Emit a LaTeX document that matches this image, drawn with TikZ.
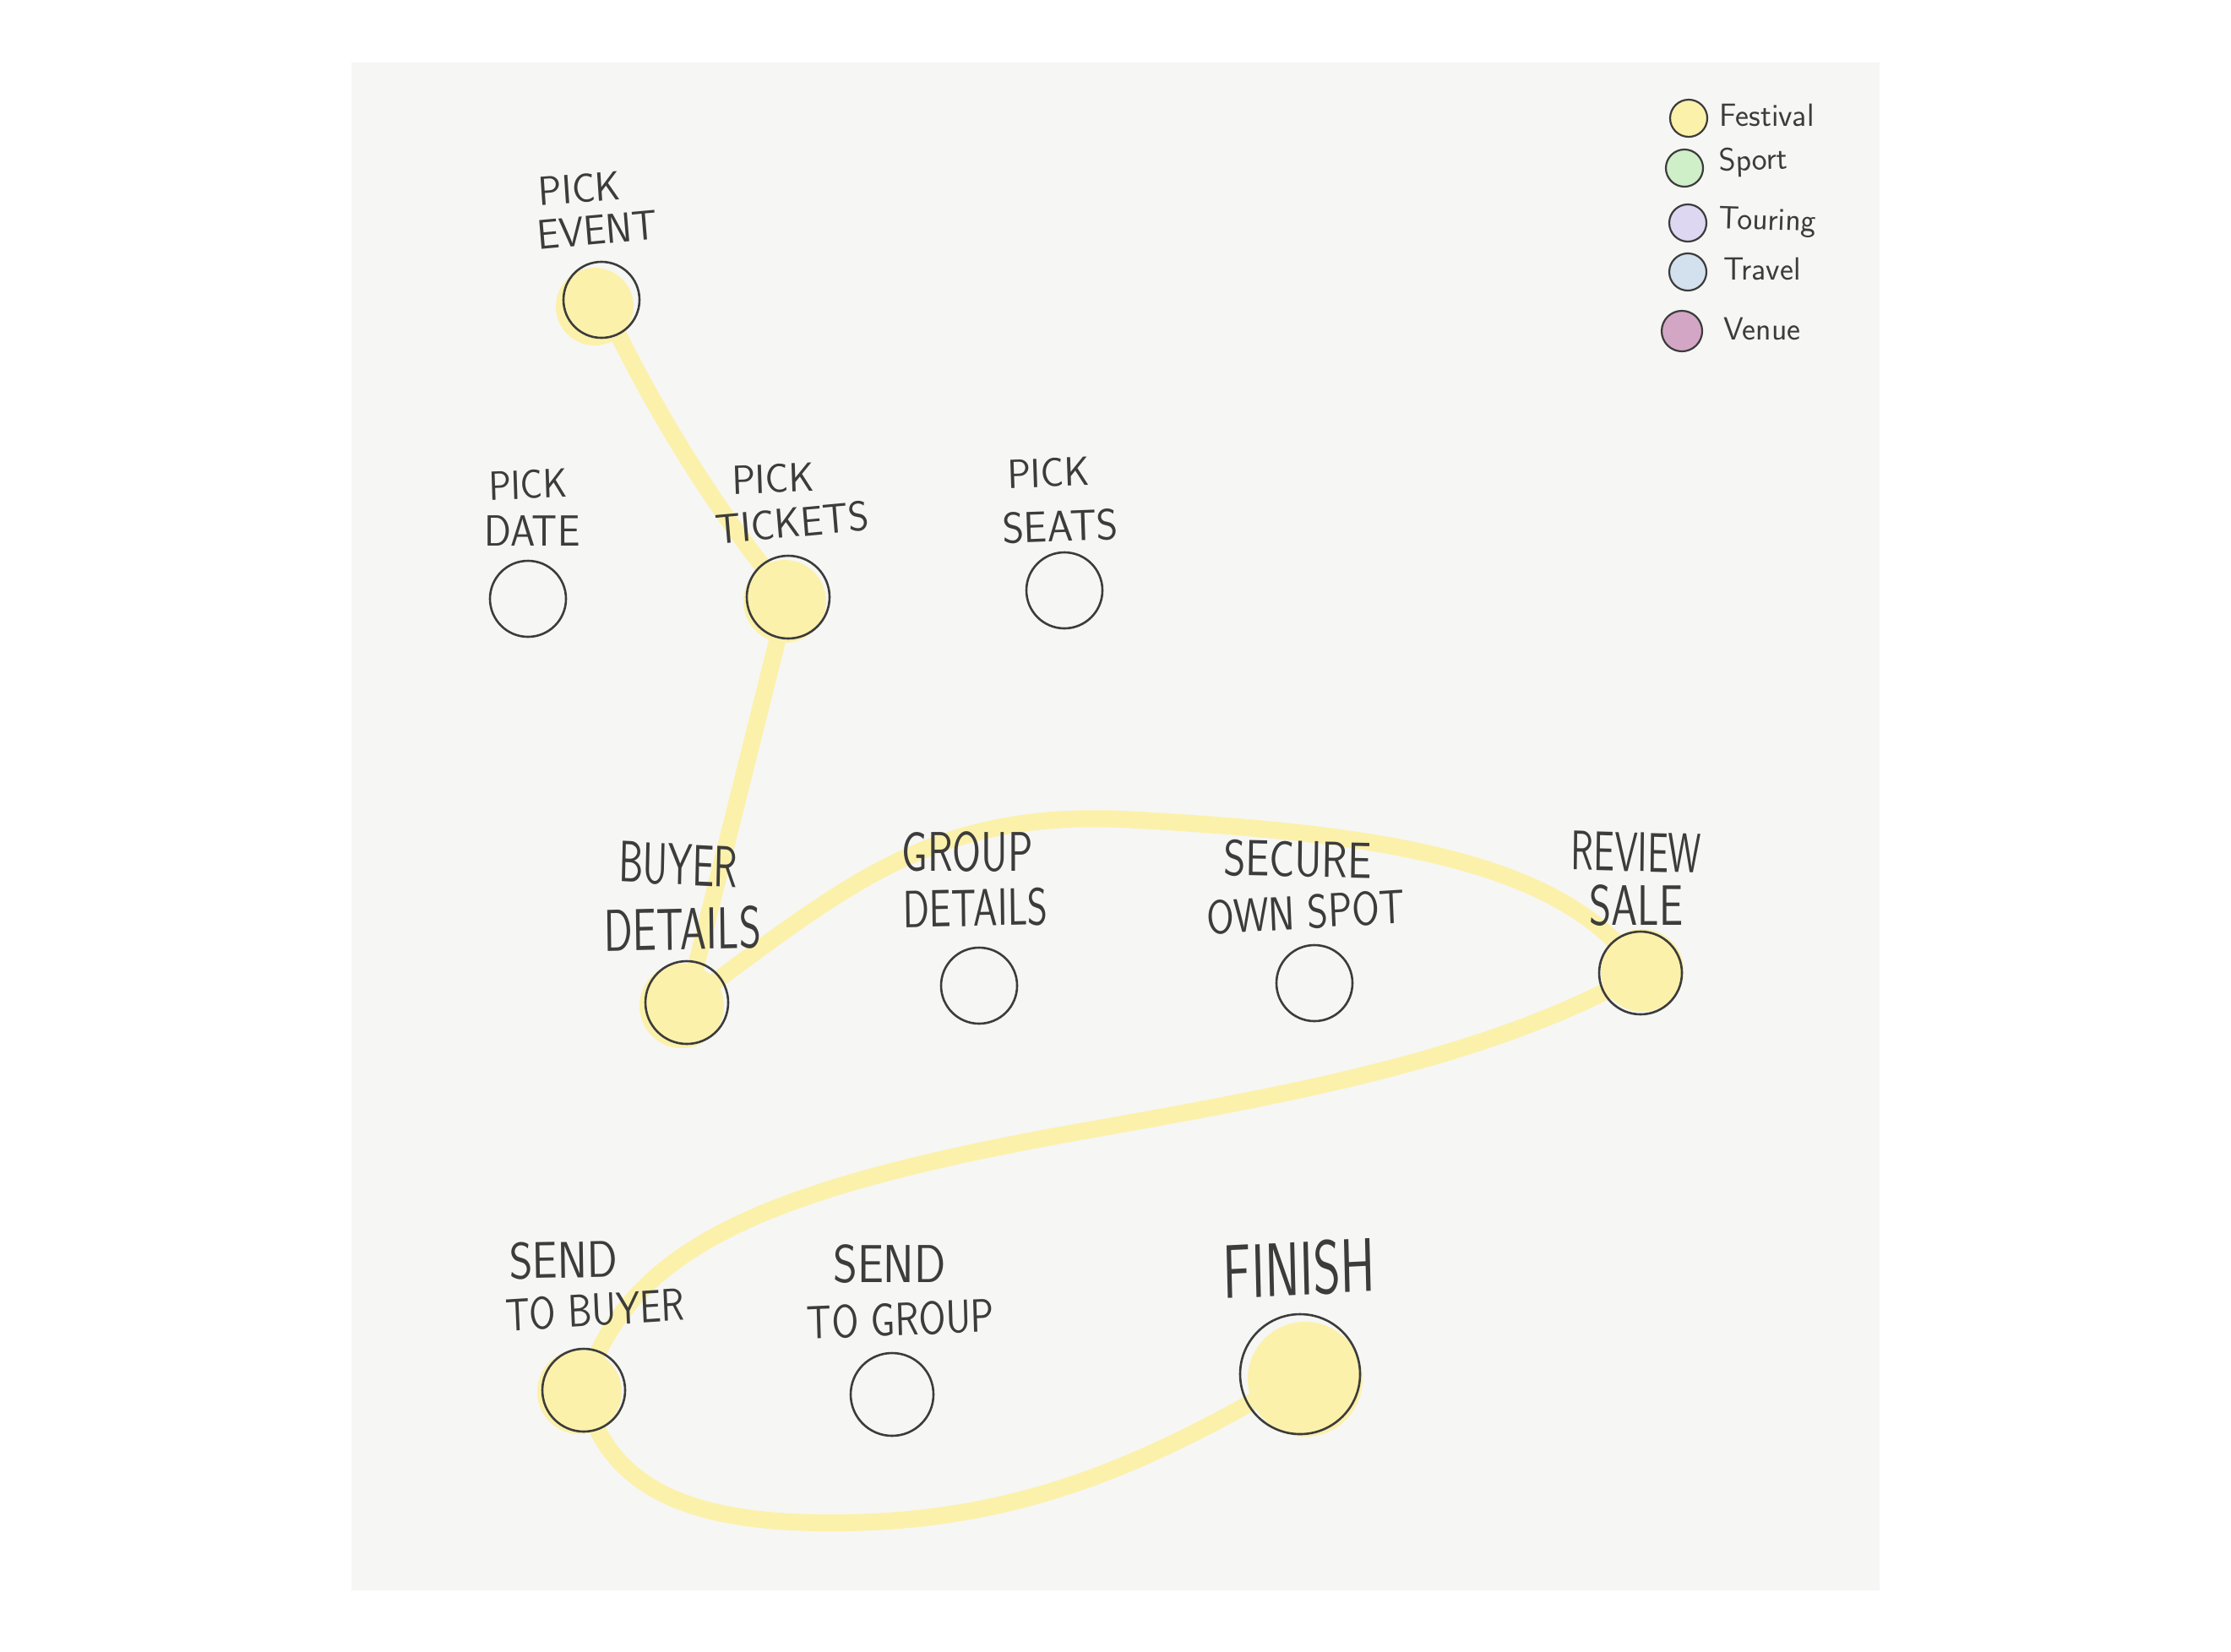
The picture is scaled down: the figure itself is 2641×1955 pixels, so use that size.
\documentclass[tikz,border=0pt]{standalone}
\usepackage{fontspec}
\usetikzlibrary{backgrounds}
\definecolor{ink}{HTML}{3C3C3C}
\definecolor{panel}{HTML}{F6F6F4}
\definecolor{fest}{HTML}{FCF1AA}
\definecolor{sportc}{HTML}{CFEFC9}
\definecolor{tourc}{HTML}{DDD7F2}
\definecolor{travc}{HTML}{D3E1EE}
\definecolor{venuec}{HTML}{D4A6C6}
\newcommand\labsize[1]{\fontsize{#1}{#1}\selectfont}
\tikzset{
  stopc/.style={circle, draw=ink, line width=2.6pt, minimum size=90pt, inner sep=0pt},
  bigstop/.style={stopc, minimum size=98pt},
  route/.style={draw=fest, line width=20pt, line cap=round, line join=round},
  lab/.style={inner sep=0pt, text=ink},
  key/.style={circle, draw=ink, line width=2.2pt, minimum size=44pt, inner sep=0pt},
  keylab/.style={lab, anchor=west, font=\sffamily\labsize{38}}
}
\begin{document}
\begin{tikzpicture}[x=1pt,y=-1pt]
\useasboundingbox (0,0) rectangle (2641,1955);
% circles
\node[stopc] (ev) at (712,355) {};
\node[stopc] (date) at (625,709) {};
\node[bigstop] (tix) at (933,707) {};
\node[stopc] (seats) at (1260,699) {};
\node[bigstop] (buyer) at (813,1187) {};
\node[stopc] (group) at (1159,1167) {};
\node[stopc] (secure) at (1556,1164) {};
\node[bigstop] (review) at (1942,1152) {};
\node[bigstop] (sbuyer) at (691,1646) {};
\node[bigstop] (sgroup) at (1056,1651) {};
\node[stopc, minimum size=142pt] (finish) at (1539,1627) {};
% labels
\node[lab, font=\sffamily\labsize{46}, yscale=1.05, rotate=4] (evA) at (686,223) {PICK};
\node[lab, font=\sffamily\labsize{47}, yscale=1.05, rotate=5] (evB) at (707,272) {EVENT};
\node[lab, font=\sffamily\labsize{44}, yscale=1.1, rotate=2] (dateA) at (625,574) {PICK};
\node[lab, font=\sffamily\labsize{47}, yscale=1.1] (dateB) at (630,629) {DATE};
\node[lab, font=\sffamily\labsize{46}, yscale=1.05, rotate=2] (tixA) at (915,567) {PICK};
\node[lab, font=\sffamily\labsize{47}, yscale=1.05, rotate=5] (tixB) at (938,619) {TICKETS};
\node[lab, font=\sffamily\labsize{46}, yscale=1.05, rotate=2] (seatsA) at (1241,560) {PICK};
\node[lab, font=\sffamily\labsize{49}, yscale=1.05, rotate=2] (seatsB) at (1255,623) {SEATS};
\node[lab, font=\sffamily\labsize{46}, yscale=1.5, rotate=-2] (buyerA) at (803,1024) {BUYER};
\node[lab, font=\sffamily\labsize{50}, yscale=1.4, rotate=1] (buyerB) at (808,1100) {DETAILS};
\node[lab, font=\sffamily\labsize{49}, yscale=1.35] (groupA) at (1145,1009) {GROUP};
\node[lab, font=\sffamily\labsize{46}, yscale=1.35, rotate=1] (groupB) at (1155,1075) {DETAILS};
\node[lab, font=\sffamily\labsize{50}, yscale=1.2, rotate=-1] (secureA) at (1536,1017) {SECURE};
\node[lab, font=\sffamily\labsize{47}, yscale=1.2, rotate=3] (secureB) at (1546,1080) {OWN SPOT};
\node[lab, font=\sffamily\labsize{44}, yscale=1.5, rotate=-1] (reviewA) at (1937,1009) {REVIEW};
\node[lab, font=\sffamily\labsize{50}, yscale=1.35] (reviewB) at (1937,1072) {SALE};
\node[lab, font=\sffamily\labsize{53}, yscale=1.15, rotate=1] (sbuyerA) at (667,1492) {SEND};
\node[lab, font=\sffamily\labsize{45}, yscale=1.2, rotate=3] (sbuyerB) at (704,1551) {TO BUYER};
\node[lab, font=\sffamily\labsize{55}, yscale=1.15] (sgroupA) at (1053,1497) {SEND};
\node[lab, font=\sffamily\labsize{46}, yscale=1.2, rotate=2] (sgroupB) at (1066,1562) {TO GROUP};
\node[lab, font=\sffamily\labsize{62}, yscale=1.45, rotate=2] (finishA) at (1538,1502) {FINISH};
% legend
\node[key, fill=fest] (kf) at (1999,140) {};
\node[key, fill=sportc] (ks) at (1994,199) {};
\node[key, fill=tourc] (kt) at (1998,264) {};
\node[key, fill=travc] (kv) at (1998,322) {};
\node[key, fill=venuec, minimum size=48pt] (kn) at (1991,392) {};
\node[keylab] (kfL) at (2035,136) {Festival};
\node[keylab, rotate=2] (ksL) at (2035,193) {Sport};
\node[keylab, rotate=-2] (ktL) at (2035,261) {Touring};
\node[keylab] (kvL) at (2040,318) {Travel};
\node[keylab] (knL) at (2040,389) {Venue};
% background layer: panel, route, fills
\begin{scope}[on background layer]
\fill[white] (0,0) rectangle (2641,1955);
\fill[panel] (416,74) rectangle (2225,1883);
\path[route] (ev.center) .. controls (770,480) and (850,610) .. (tix.center);
\path[route] (tix.center) -- (buyer.center);
\path[route] (buyer.center) .. controls (1000,1050) and (1100,960) .. (1330,970)
   .. controls (1600,985) and (1850,1010) .. (review.center);
\path[route] (review.center) .. controls (1750,1260) and (1500,1300) .. (1250,1345)
   .. controls (900,1410) and (740,1480) .. (sbuyer.center);
\path[route] (sbuyer.center) .. controls (720,1780) and (850,1805) .. (1000,1803)
   .. controls (1200,1800) and (1350,1740) .. (finish.center);
\fill[fest] ([shift={(-8,8)}]ev.center) circle (46);
\fill[fest] ([shift={(-4,5)}]tix.center) circle (49);
\fill[fest] ([shift={(-6,4)}]buyer.center) circle (50);
\fill[fest] ([shift={(2,-3)}]review.center) circle (49);
\fill[fest] ([shift={(-5,2)}]sbuyer.center) circle (50);
\fill[fest] ([shift={(6,6)}]finish.center) circle (68);
\end{scope}
\end{tikzpicture}
\end{document}
